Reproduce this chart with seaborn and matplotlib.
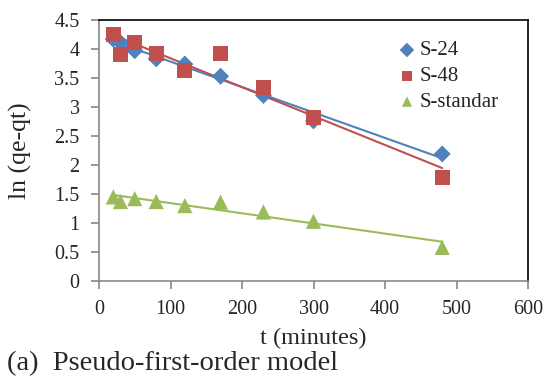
import numpy as np
import pandas as pd
import seaborn as sns
import matplotlib.pyplot as plt

# Datos
t = [20, 30, 50, 80, 120, 170, 230, 300, 480]
s24 = [4.17, 4.11, 3.97, 3.83, 3.74, 3.53, 3.20, 2.76, 2.19]
s48 = [4.25, 3.90, 4.11, 3.92, 3.63, 3.92, 3.33, 2.82, 1.79]
s_std = [1.45, 1.37, 1.42, 1.37, 1.30, 1.36, 1.19, 1.03, 0.58]
series = ['S-24', 'S-48', 'S-standar']

df = pd.DataFrame({
    't': t * 3,
    'y': s24 + s48 + s_std,
    'serie': [s for s in series for _ in t],
})

colores = {'S-24': '#4F81BD', 'S-48': '#C0504D', 'S-standar': '#9BBB59'}
marcadores = {'S-24': 'D', 'S-48': 's', 'S-standar': '^'}
tam = {'S-24': 75, 'S-48': 120, 'S-standar': 120}

sns.set_style('white')
plt.rcParams['font.family'] = ['Liberation Serif', 'DejaVu Serif']

fig = plt.figure(figsize=(5.46, 3.78), dpi=100)
ax = fig.add_axes([99 / 546, 1 - 281 / 378, 429 / 546, 261 / 378])

# Lineas de tendencia
for s in series:
    d = df[df.serie == s]
    sns.regplot(data=d, x='t', y='y', ax=ax, scatter=False, ci=None,
                color=colores[s], line_kws={'lw': 1.5})

for s in series:
    d = df[df.serie == s]
    sns.scatterplot(data=d, x='t', y='y', ax=ax, color=colores[s],
                    marker=marcadores[s], s=tam[s], edgecolor='none',
                    label=s, zorder=3, clip_on=False)

ax.set_xlim(0, 600); ax.set_ylim(0, 4.5)
ax.set_xticks(range(0, 601, 100))
ax.set_yticks(np.arange(0, 4.51, 0.5))
ax.set_yticklabels(['0', '0.5', '1', '1.5', '2', '2.5', '3', '3.5', '4', '4.5'])

for lado in ['left', 'bottom']:
    ax.spines[lado].set_color('#888888')
    ax.spines[lado].set_linewidth(1.2)
for lado in ['top', 'right']:
    ax.spines[lado].set_color('black')
    ax.spines[lado].set_linewidth(1.2)

ax.tick_params(axis='both', direction='out', length=6, width=1.2, color='#888888',
               labelsize=14.5, pad=8, left=True, bottom=True)

ax.set_xlabel('t (minutes)', fontsize=17.5, labelpad=6)
ax.set_ylabel('ln (qe-qt)', fontsize=18.5, labelpad=16)

leg = ax.legend(loc='upper right', frameon=False, fontsize=15, handletextpad=0.1,
                borderaxespad=0.6, labelspacing=0.3, handlelength=1.0,
                bbox_to_anchor=(0.98, 1.0))
for h in leg.legend_handles:
    h.set_sizes([55])

fig.text(0.012, 0.004, '(a)  Pseudo-first-order model', fontsize=20.5, ha='left', va='bottom')

plt.savefig('out.png', dpi=100)
